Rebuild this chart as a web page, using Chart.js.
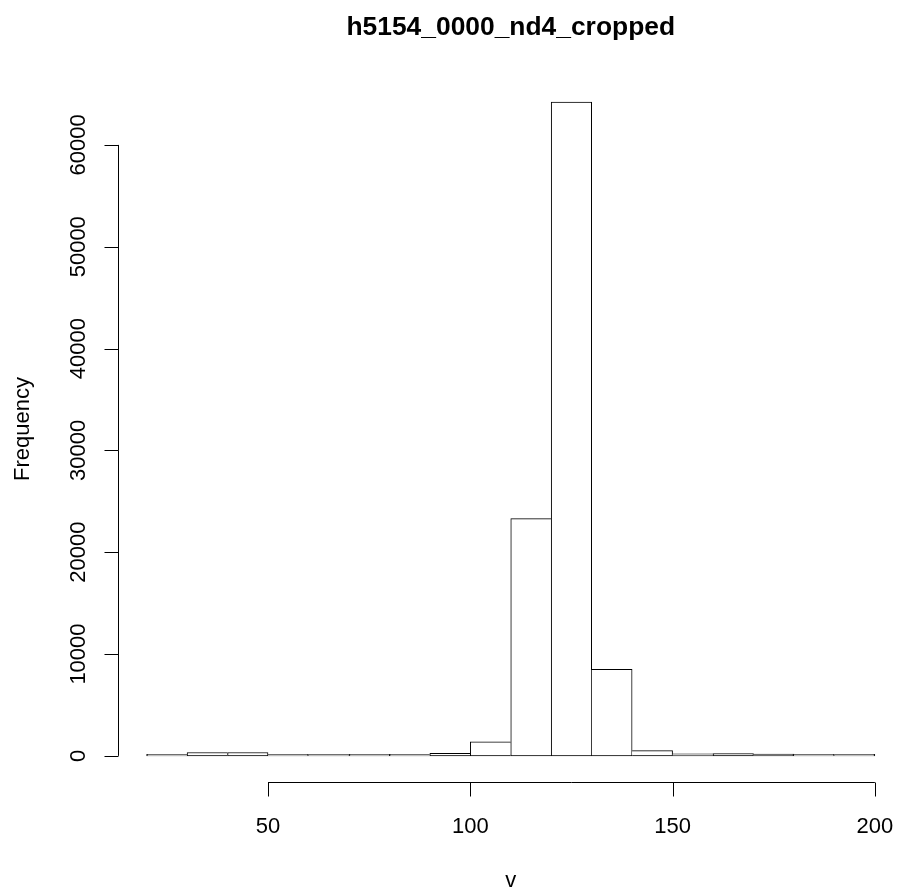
<!DOCTYPE html>
<html>
<head>
<meta charset="utf-8">
<title>h5154_0000_nd4_cropped</title>
<script src="https://cdn.jsdelivr.net/npm/chart.js@4/dist/chart.umd.min.js"></script>
<style>
    html, body { margin: 0; padding: 0; background: #fff; overflow: hidden; }
    #wrap { width: 910px; height: 892px; }
</style>
</head>
<body>
<div id="wrap"><canvas id="histChart"></canvas></div>
<script>
// histogram bins (breaks every 10 from 20 to 200) and their counts
const breaks = [20, 30, 40, 50, 60, 70, 80, 90, 100, 110, 120, 130, 140, 150, 160, 170, 180, 190, 200]
const counts = [50, 330, 330, 100, 50, 50, 130, 250, 1380, 23300, 64200, 8500, 520, 200, 230, 170, 100, 20]
const xTicks = [50, 100, 150, 200]
const yTicks = [0, 10000, 20000, 30000, 40000, 50000, 60000]

const titleText = 'h5154_0000_nd4_cropped'
const xLabel = 'v'
const yLabel = 'Frequency'
const fontFamily = '"Liberation Sans", Arial, Helvetica, sans-serif'

const mids = counts.map((c, i) => (breaks[i] + breaks[i + 1]) / 2)
const points = counts.map((c, i) => ({ x: mids[i], y: c }))

// base R style ranges: pad each side by 4%
const xSpan = breaks[breaks.length - 1] - breaks[0]
const yMax = Math.max(...counts)

// one shared line between neighbours: the taller bar owns the edge
function barBorder(ctx) {
    const i = ctx.dataIndex
    const cur = counts[i]
    const prev = counts[i - 1]
    const next = counts[i + 1]
    return {
        top: 1,
        bottom: 1,
        left: prev === undefined || prev <= cur ? 1 : 0,
        right: next === undefined || next < cur ? 1 : 0
    }
}

// detached axes, titles and labels drawn the way base graphics does
const baseAxes = {
    id: 'baseAxes',
    afterDraw(chart) {
        const { ctx, chartArea, scales } = chart
        const xs = scales.x
        const ys = scales.y
        const tick = 14

        ctx.save()
        ctx.strokeStyle = '#000'
        ctx.fillStyle = '#000'
        ctx.lineWidth = 1

        // y axis
        const ax = Math.round(chartArea.left) + 0.5
        ctx.beginPath()
        ctx.moveTo(ax, ys.getPixelForValue(yTicks[0]))
        ctx.lineTo(ax, ys.getPixelForValue(yTicks[yTicks.length - 1]))
        yTicks.forEach(v => {
            const py = Math.round(ys.getPixelForValue(v)) + 0.5
            ctx.moveTo(ax, py)
            ctx.lineTo(ax - tick, py)
        })
        ctx.stroke()

        ctx.font = '22px ' + fontFamily
        ctx.textAlign = 'center'
        ctx.textBaseline = 'alphabetic'
        yTicks.forEach(v => {
            ctx.save()
            ctx.translate(ax - 33.5, ys.getPixelForValue(v))
            ctx.rotate(-Math.PI / 2)
            ctx.fillText(String(v), 0, 0)
            ctx.restore()
        })

        // x axis
        const ay = Math.round(chartArea.bottom) + 0.5
        ctx.beginPath()
        ctx.moveTo(xs.getPixelForValue(xTicks[0]), ay)
        ctx.lineTo(xs.getPixelForValue(xTicks[xTicks.length - 1]), ay)
        xTicks.forEach(v => {
            const px = Math.round(xs.getPixelForValue(v)) + 0.5
            ctx.moveTo(px, ay)
            ctx.lineTo(px, ay + tick)
        })
        ctx.stroke()

        xTicks.forEach(v => {
            ctx.fillText(String(v), xs.getPixelForValue(v), ay + 50)
        })

        // axis titles
        const cx = (chartArea.left + chartArea.right) / 2
        const cy = (chartArea.top + chartArea.bottom) / 2
        ctx.fillText(xLabel, cx, ay + 104)
        ctx.save()
        ctx.translate(29, cy)
        ctx.rotate(-Math.PI / 2)
        ctx.fillText(yLabel, 0, 0)
        ctx.restore()

        // main title
        ctx.font = 'bold 26.4px ' + fontFamily
        ctx.fillText(titleText, cx, 35)

        ctx.restore()
    }
}

new Chart(document.getElementById('histChart'), {
    type: 'bar',
    data: {
        datasets: [{
            label: yLabel,
            data: points,
            backgroundColor: '#ffffff',
            borderColor: '#000000',
            borderWidth: barBorder,
            borderSkipped: false,
            minBarLength: 1.5,
            barPercentage: 1,
            categoryPercentage: 1
        }]
    },
    options: {
        responsive: true,
        maintainAspectRatio: false,
        animation: false,
        events: [],
        layout: {
            padding: { left: 117.5, right: 6, top: 76, bottom: 110 }
        },
        plugins: {
            legend: { display: false },
            tooltip: { enabled: false },
            title: { display: false }
        },
        scales: {
            x: {
                type: 'linear',
                offset: false,
                min: breaks[0] - 0.04 * xSpan,
                max: breaks[breaks.length - 1] + 0.04 * xSpan,
                display: false
            },
            y: {
                type: 'linear',
                min: -0.04 * yMax,
                max: yMax * 1.04,
                display: false
            }
        }
    },
    plugins: [baseAxes]
})
</script>
</body>
</html>
